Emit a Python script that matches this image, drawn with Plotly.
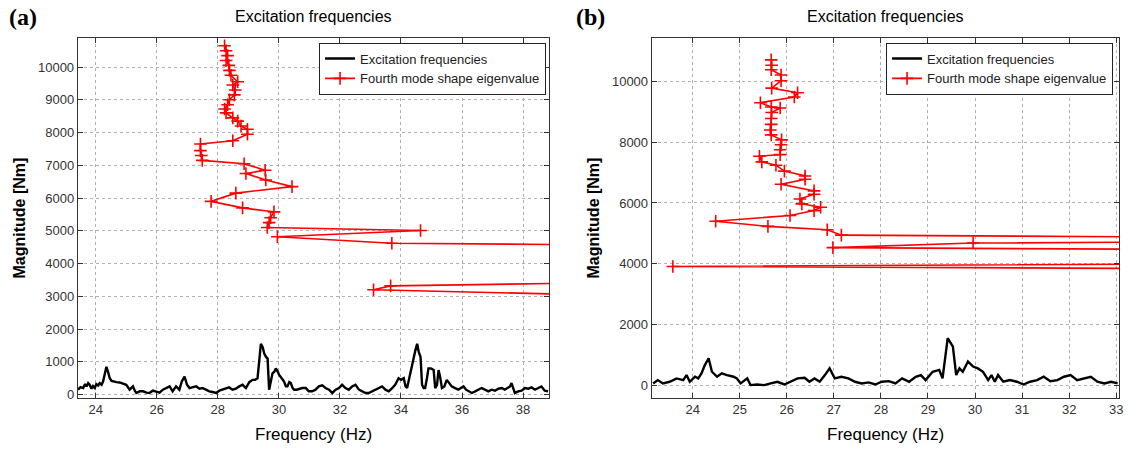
import plotly.graph_objects as go

# panel (a) - excitation spectrum
exc_a_freq = [
    23.42, 23.50, 23.59, 23.65, 23.70, 23.75, 23.80, 23.86, 23.91, 23.97,
    24.02, 24.08, 24.13, 24.19, 24.24, 24.30, 24.35, 24.40, 24.46, 24.52,
    24.57, 24.68, 24.78, 24.89, 25.00, 25.11, 25.22, 25.28, 25.33, 25.44,
    25.55, 25.66, 25.76, 25.87, 25.98, 26.09, 26.20, 26.31, 26.42, 26.52,
    26.63, 26.74, 26.82, 26.91, 26.99, 27.07, 27.18, 27.29, 27.40, 27.50,
    27.61, 27.72, 27.83, 27.94, 28.05, 28.16, 28.27, 28.37, 28.48, 28.59,
    28.70, 28.81, 28.92, 29.03, 29.14, 29.22, 29.30, 29.36, 29.41, 29.47,
    29.52, 29.58, 29.63, 29.68, 29.74, 29.79, 29.85, 29.90, 29.96, 30.01,
    30.09, 30.17, 30.23, 30.28, 30.34, 30.39, 30.45, 30.50, 30.58, 30.66,
    30.77, 30.88, 30.98, 31.09, 31.20, 31.31, 31.42, 31.53, 31.64, 31.75,
    31.86, 31.97, 32.07, 32.18, 32.29, 32.40, 32.51, 32.62, 32.73, 32.84,
    32.94, 33.05, 33.16, 33.27, 33.38, 33.49, 33.60, 33.71, 33.81, 33.92,
    34.00, 34.09, 34.15, 34.20, 34.30, 34.40, 34.47, 34.53, 34.58, 34.64,
    34.69, 34.74, 34.79, 34.85, 34.90, 34.98, 35.07, 35.12, 35.18, 35.23,
    35.28, 35.34, 35.42, 35.50, 35.58, 35.66, 35.77, 35.88, 35.96, 36.05,
    36.13, 36.21, 36.32, 36.43, 36.54, 36.64, 36.75, 36.86, 36.97, 37.08,
    37.19, 37.30, 37.40, 37.51, 37.57, 37.62, 37.68, 37.73, 37.84, 37.95,
    38.06, 38.17, 38.28, 38.39, 38.50, 38.60, 38.71, 38.82,
]
exc_a_mag = [
    150, 230, 200, 320, 250, 350, 300, 180, 260, 200,
    320, 280, 350, 300, 400, 600, 850, 700, 500, 420,
    400, 380, 370, 330, 300, 150, 250, 120, 50, 100,
    100, 60, 50, 120, 100, 60, 150, 200, 250, 100,
    250, 150, 400, 550, 300, 200, 220, 250, 180, 200,
    150, 100, 80, 50, 120, 150, 200, 220, 150, 180,
    250, 300, 200, 380, 450, 450, 500, 1200, 1550, 1450,
    1250, 1150, 1100, 150, 500, 650, 700, 800, 700, 600,
    500, 400, 250, 250, 380, 350, 200, 150, 150, 180,
    200, 200, 100, 100, 150, 250, 280, 200, 150, 50,
    150, 200, 300, 200, 150, 250, 300, 150, 100, 50,
    50, 100, 150, 200, 250, 150, 100, 200, 300, 500,
    450, 500, 250, 200, 650, 1000, 1350, 1550, 1300, 1150,
    300, 200, 200, 500, 800, 800, 750, 200, 300, 750,
    550, 200, 250, 450, 350, 250, 200, 150, 200, 250,
    150, 100, 50, 100, 150, 200, 150, 100, 150, 120,
    180, 200, 150, 200, 250, 350, 150, 50, 100, 120,
    200, 180, 220, 150, 200, 250, 120, 100,
]

# panel (a) - fourth mode eigenvalue path
eig_a_freq = [
    28.22, 28.27, 28.32, 28.27, 28.36, 28.38, 28.43, 28.65, 28.49, 28.57,
    28.54, 28.38, 28.32, 28.22, 28.27, 28.49, 28.65, 28.76, 28.97, 28.97,
    28.49, 27.43, 27.43, 27.46, 27.49, 28.86, 29.55, 28.92, 29.57, 30.43,
    28.59, 27.78, 28.81, 29.84, 29.73, 29.68, 29.62, 34.64, 29.95, 33.70,
    41.0, 41.0, 33.66, 33.10, 41.0,
]
eig_a_mag = [
    10650, 10500, 10350, 10200, 10050, 9900, 9750, 9550, 9450, 9300,
    9150, 9000, 8850, 8720, 8600, 8450, 8350, 8200, 8100, 7950,
    7750, 7650, 7450, 7300, 7150, 7050, 6850, 6750, 6550, 6350,
    6150, 5900, 5700, 5580, 5400, 5250, 5100, 5010, 4820, 4620,
    4570, 3420, 3320, 3200, 3030,
]

# panel (b) - excitation spectrum
exc_b_freq = [
    23.16, 23.26, 23.37, 23.51, 23.66, 23.80, 23.87, 23.94, 24.05, 24.12,
    24.19, 24.26, 24.34, 24.41, 24.52, 24.62, 24.73, 24.87, 24.94, 25.02,
    25.16, 25.23, 25.37, 25.52, 25.66, 25.80, 25.95, 26.09, 26.23, 26.38,
    26.48, 26.59, 26.70, 26.81, 26.91, 27.02, 27.16, 27.31, 27.45, 27.59,
    27.74, 27.88, 28.02, 28.17, 28.31, 28.45, 28.60, 28.74, 28.85, 28.95,
    29.10, 29.24, 29.31, 29.42, 29.53, 29.60, 29.67, 29.74, 29.85, 29.96,
    30.06, 30.17, 30.28, 30.35, 30.42, 30.49, 30.60, 30.74, 30.89, 31.03,
    31.17, 31.32, 31.46, 31.60, 31.75, 31.89, 32.03, 32.17, 32.32, 32.46,
    32.60, 32.75, 32.89, 33.03,
]
exc_b_mag = [
    55, 165, 55, 110, 220, 165, 330, 110, 275, 220,
    390, 660, 885, 440, 275, 390, 330, 275, 220, 55,
    220, 0, 20, 0, 55, 110, 20, 110, 220, 240,
    110, 220, 110, 330, 550, 220, 275, 220, 110, 55,
    90, 20, 110, 130, 55, 220, 110, 275, 330, 165,
    440, 500, 220, 1550, 1270, 330, 550, 440, 775, 610,
    550, 440, 165, 330, 110, 330, 110, 165, 110, 20,
    110, 165, 275, 130, 165, 275, 330, 165, 220, 275,
    110, 55, 110, 55,
]

# panel (b) - fourth mode eigenvalue path
eig_b_freq = [
    25.67, 25.68, 25.67, 25.88, 25.88, 25.68, 26.23, 26.16, 25.44, 25.67,
    25.86, 25.68, 25.67, 25.67, 25.65, 25.67, 25.89, 25.88, 25.86, 25.86,
    25.42, 25.47, 25.77, 25.95, 26.39, 26.39, 25.88, 26.58, 26.58, 26.28,
    26.32, 26.72, 26.58, 26.07, 24.49, 25.60, 26.86, 27.16, 40.0, 40.0,
    29.96, 26.98, 40.0, 40.0, 23.58, 40.0,
]
eig_b_mag = [
    10715, 10540, 10390, 10215, 10030, 9785, 9630, 9490, 9305, 9165,
    9130, 8980, 8785, 8590, 8405, 8245, 8080, 7920, 7755, 7595,
    7540, 7355, 7245, 7050, 6890, 6780, 6620, 6400, 6290, 6130,
    5970, 5860, 5750, 5590, 5400, 5230, 5120, 4940, 4830, 4760,
    4680, 4530, 4420, 4030, 3910, 3800,
]

W, H = 1131, 451
FONT = "Liberation Sans, Arial, sans-serif"

fig = go.Figure()

fig.add_trace(go.Scatter(x=exc_a_freq, y=exc_a_mag, mode="lines",
                         name="Excitation frequencies",
                         line=dict(color="black", width=2.4),
                         xaxis="x", yaxis="y", legend="legend"))
fig.add_trace(go.Scatter(x=eig_a_freq, y=eig_a_mag, mode="lines+markers",
                         name="Fourth mode shape eigenvalue",
                         line=dict(color="red", width=1.6),
                         marker=dict(symbol="cross-thin", size=9,
                                     line=dict(color="red", width=1.6)),
                         xaxis="x", yaxis="y", legend="legend"))
fig.add_trace(go.Scatter(x=exc_b_freq, y=exc_b_mag, mode="lines",
                         name="Excitation frequencies",
                         line=dict(color="black", width=2.4),
                         xaxis="x2", yaxis="y2", legend="legend2"))
fig.add_trace(go.Scatter(x=eig_b_freq, y=eig_b_mag, mode="lines+markers",
                         name="Fourth mode shape eigenvalue",
                         line=dict(color="red", width=1.6),
                         marker=dict(symbol="cross-thin", size=9,
                                     line=dict(color="red", width=1.6)),
                         xaxis="x2", yaxis="y2", legend="legend2"))

axis_style = dict(
    showline=True, linecolor="#333", linewidth=1, mirror="ticks",
    ticks="inside", ticklen=5, tickcolor="#333",
    showgrid=True, gridcolor="#b0b0b0", griddash="dot", gridwidth=1,
    zeroline=False, tickfont=dict(family=FONT, size=13, color="#333"),
    ticklabeloverflow="allow", tickformat="d",
)

y_dom = [(H - 402) / H, (H - 38) / H]

legend_style = dict(
    bgcolor="white", bordercolor="#222", borderwidth=1,
    font=dict(family=FONT, size=13, color="#222"),
    xanchor="right", yanchor="top", itemwidth=30,
    tracegroupgap=0,
)

fig.update_layout(
    width=W, height=H,
    margin=dict(l=0, r=0, t=0, b=0),
    paper_bgcolor="white", plot_bgcolor="white",
    xaxis=dict(domain=[78 / W, 551 / W], range=[23.41, 38.85],
               tickvals=[24, 26, 28, 30, 32, 34, 36, 38], anchor="y", **axis_style),
    yaxis=dict(domain=y_dom, range=[-90, 10900],
               tickvals=list(range(0, 10001, 1000)), anchor="x", **axis_style),
    xaxis2=dict(domain=[654 / W, 1123 / W], range=[23.13, 33.06],
                tickvals=list(range(24, 34)), anchor="y2", **axis_style),
    yaxis2=dict(domain=y_dom, range=[-410, 11450],
                tickvals=list(range(0, 10001, 2000)), anchor="x2", **axis_style),
    legend=dict(x=548 / W, y=(H - 43) / H, **legend_style),
    legend2=dict(x=1117 / W, y=(H - 43) / H, **legend_style),
    showlegend=True,
)


def label(x, y, text, size, angle=0, family=FONT, xanchor="center"):
    fig.add_annotation(x=x / W, y=(H - y) / H, xref="paper", yref="paper",
                       xanchor=xanchor, yanchor="middle", text=text,
                       showarrow=False, textangle=angle,
                       font=dict(family=family, size=size, color="black"))


for cx, ylx in [((78 + 551) / 2, 20), ((654 + 1123) / 2, 596)]:
    label(cx, 17, "Excitation frequencies", 16)
    label(cx, 439, "Frequency (Hz)", 17)
    label(ylx, 220, "<b>Magnitude [Nm]</b>", 16, angle=-90)

SERIF = "Liberation Serif, Times New Roman, serif"
label(7, 17, "<b>(a)</b>", 24, family=SERIF, xanchor="left")
label(576, 17, "<b>(b)</b>", 24, family=SERIF, xanchor="left")

# page has a default body margin; drop it so the figure fills the window
fig.write_html("out.html", config={"displayModeBar": False},
               post_script="document.body.style.margin='0';")
